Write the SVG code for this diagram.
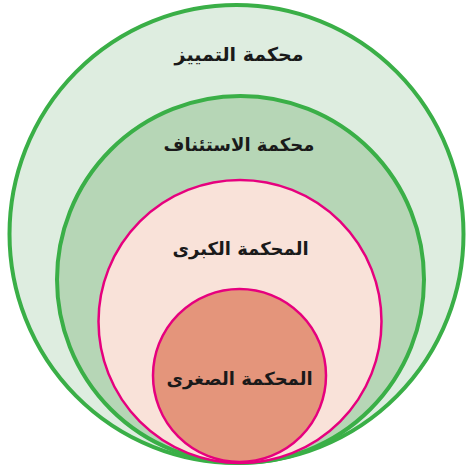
<svg xmlns="http://www.w3.org/2000/svg" width="466" height="469" viewBox="0 0 466 469">
<style>
.green{stroke:#3aaf47;stroke-width:4}
.pink{stroke:#e6007e;stroke-width:2.5}
.lbl{font-family:"DejaVu Sans",sans-serif;font-weight:bold;font-size:19px;fill:#1a1a1a;text-anchor:middle;direction:rtl}
.sm{font-size:18px}
</style>
<rect width="466" height="469" fill="#ffffff"/>
<g id="supreme">
<ellipse class="green" cx="236.5" cy="234" rx="227" ry="229" fill="#deede0"/>
<text class="lbl" x="239" y="61">محكمة التمييز</text>
</g>
<g id="appeal">
<circle class="green" cx="240.5" cy="279.5" r="183.5" fill="#b6d6b6"/>
<text class="lbl sm" x="239" y="151">محكمة الاستئناف</text>
</g>
<g id="major">
<circle class="pink" cx="240" cy="321.5" r="141.5" fill="#f9e2d9"/>
<text class="lbl sm" x="240.5" y="255">المحكمة الكبرى</text>
</g>
<g id="minor">
<circle class="pink" cx="239.5" cy="375.5" r="86.5" fill="#e4957b"/>
<text class="lbl sm" x="239.5" y="385">المحكمة الصغرى</text>
</g>
</svg>
